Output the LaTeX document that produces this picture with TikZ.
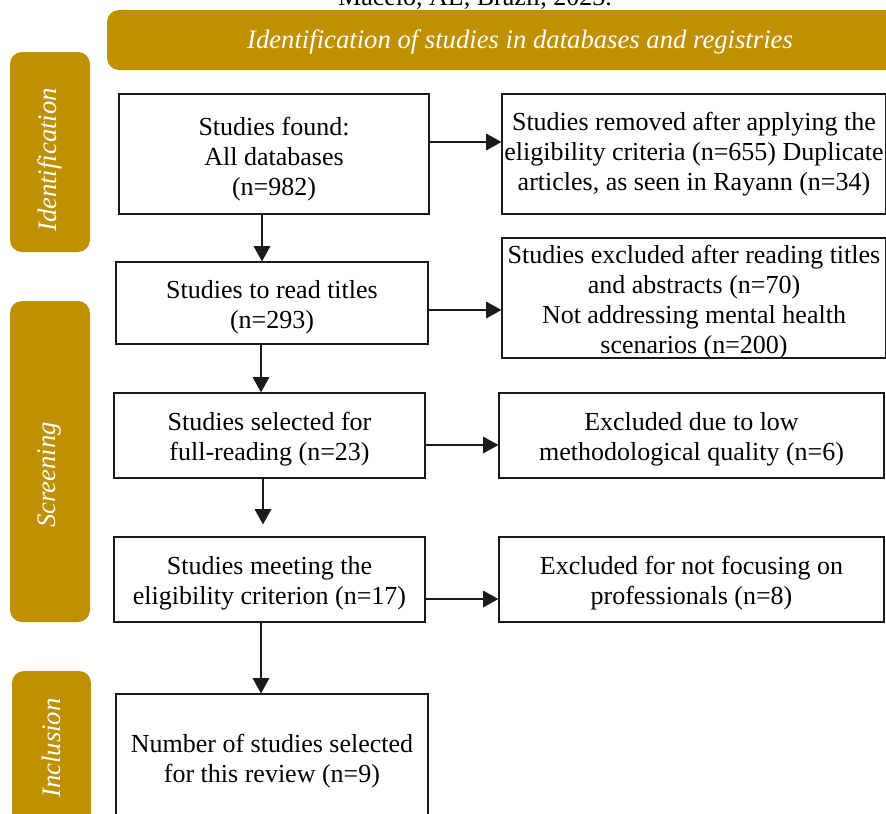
\documentclass[tikz,border=0pt]{standalone}
\usepackage{fontspec}
\setmainfont{Liberation Serif}
\usetikzlibrary{arrows.meta}
\definecolor{gold}{HTML}{BF9000}
\definecolor{ink}{HTML}{1A1A1A}
\begin{document}
\begin{tikzpicture}[x=0.75pt,y=-0.75pt,
  every node/.style={font=\fontsize{19.5}{22.5}\selectfont},
  box/.style={draw=ink, line width=0.9pt, inner sep=0pt},
  txt/.style={align=center, inner sep=0pt},
  band/.style={fill=gold, rounded corners=9pt},
  bandtext/.style={text=white, font=\fontsize{20}{22}\selectfont\itshape},
  arr/.style={draw=ink, line width=0.9pt, -{Triangle[length=11.5pt,width=12.5pt]}}]
\useasboundingbox (0,0) rectangle (886,814);

% caption line above the chart
\node[anchor=base] (cap) at (475,5) {Maceió, AL, Brazil, 2023.};

% coloured bands
\fill[band] (107,10) rectangle (910,70);
\node[bandtext] (hdr) at (520,42) {Identification of studies in databases and registries};
\fill[band] (10,52) rectangle (90,252);
\node[bandtext, rotate=90] (lid) at (50,160) {Identification};
\fill[band] (10,301) rectangle (90,622);
\node[bandtext, rotate=90] (lsc) at (50,475) {Screening};
\fill[band] (12,671) rectangle (91,860);
\node[bandtext, rotate=90] (lin) at (51,748) {Inclusion};

% main column
\node[box, minimum width=232.5pt, minimum height=90pt] (A) at (274,154) {};
\node[box, minimum width=234pt, minimum height=61.5pt] (B) at (272,303) {};
\node[box, minimum width=233.25pt, minimum height=63.75pt] (C) at (269.5,435.5) {};
\node[box, minimum width=233.25pt, minimum height=63.75pt] (D) at (269.5,579.5) {};
\node[box, minimum width=234pt, minimum height=96pt] (E) at (272,758) {};

\node[txt] (At) at ([yshift=-3.5pt]A.center) {Studies found:\\ All databases\\ (n=982)};
\node[txt] (Bt) at ([yshift=-3.5pt]B.center) {Studies to read titles\\ (n=293)};
\node[txt] (Ct) at ([yshift=-3pt]C.center) {Studies selected for\\ full-reading (n=23)};
\node[txt] (Dt) at ([yshift=-3.2pt]D.center) {Studies meeting the\\ eligibility criterion (n=17)};
\node[txt] (Et) at ([yshift=-2.5pt]E.center) {Number of studies selected\\ for this review (n=9)};

% exclusion column
\node[box, minimum width=288pt, minimum height=90pt] (R1) at (694,154) {};
\node[box, minimum width=288pt, minimum height=90pt] (R2) at (694,298) {};
\node[box, minimum width=288.75pt, minimum height=63.75pt] (R3) at (691.5,435.5) {};
\node[box, minimum width=288.75pt, minimum height=63.75pt] (R4) at (691.5,579.5) {};

\node[txt] (R1t) at (R1.center)
  {Studies removed after applying the\\ eligibility criteria (n=655) Duplicate\\ articles, as seen in Rayann (n=34)};
\node[txt] (R2t) at ([yshift=-3pt]R2.center)
  {Studies excluded after reading titles\\ and abstracts (n=70)\\ Not addressing mental health\\ scenarios (n=200)};
\node[txt] (R3t) at ([yshift=-3pt]R3.center) {Excluded due to low\\ methodological quality (n=6)};
\node[txt] (R4t) at ([yshift=-3pt]R4.center) {Excluded for not focusing on\\ professionals (n=8)};

% guide positions for the connectors
\coordinate (v1) at (262,0);
\coordinate (v2) at (261,0);
\coordinate (v3) at (263,0);
\coordinate (h1) at (0,142);
\coordinate (h2) at (0,310);
\coordinate (h3) at (0,445);
\coordinate (h4) at (0,599);

% downward flow
\draw[arr] (A.south -| v1) -- (B.north -| v1);
\draw[arr] (B.south -| v2) -- (C.north -| v2);
\draw[arr, shorten >=9pt] (C.south -| v3) -- (D.north -| v3);
\draw[arr] (D.south -| v2) -- (E.north -| v2);

% exclusions
\draw[arr] (A.east |- h1) -- (R1.west |- h1);
\draw[arr] (B.east |- h2) -- (R2.west |- h2);
\draw[arr] (C.east |- h3) -- (R3.west |- h3);
\draw[arr] (D.east |- h4) -- (R4.west |- h4);
\end{tikzpicture}
\end{document}
